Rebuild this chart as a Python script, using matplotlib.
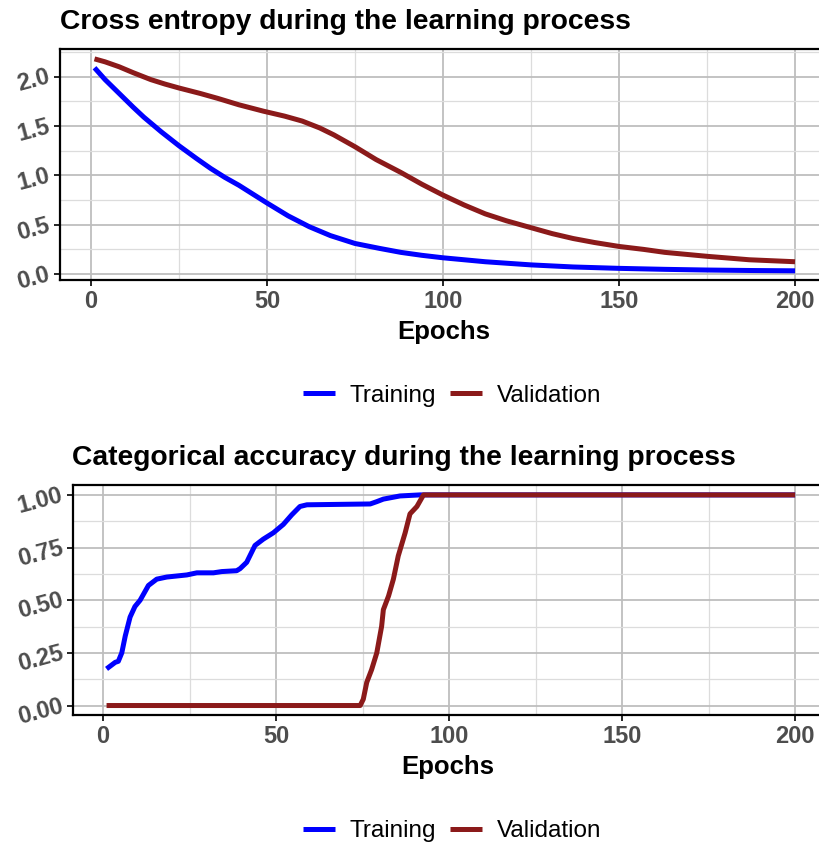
import matplotlib
matplotlib.use("Agg")
import matplotlib.pyplot as plt
from matplotlib.ticker import MultipleLocator

plt.rcParams['font.family'] = ['Liberation Sans', 'DejaVu Sans']

# cross entropy
ce_train_epoch = [1, 2, 4, 6, 8, 10, 12, 15, 20, 25, 30, 34, 38, 42, 46, 50, 56, 62, 68, 75, 82, 88, 94, 100, 112, 125, 137, 150, 163, 175, 188, 200]
ce_train = [2.09, 2.05, 1.97, 1.90, 1.83, 1.76, 1.69, 1.59, 1.44, 1.30, 1.17, 1.07, 0.98, 0.90, 0.81, 0.72, 0.59, 0.48, 0.39, 0.31, 0.26, 0.22, 0.19, 0.165, 0.125, 0.093, 0.072, 0.058, 0.048, 0.041, 0.036, 0.033]
ce_val_epoch = [1, 4, 8, 12, 17, 21, 25, 31, 36, 42, 49, 55, 60, 65, 69, 75, 81, 88, 94, 100, 106, 112, 118, 125, 131, 137, 143, 150, 157, 163, 175, 187, 200]
ce_val = [2.18, 2.15, 2.10, 2.04, 1.97, 1.925, 1.885, 1.83, 1.78, 1.715, 1.65, 1.60, 1.55, 1.48, 1.41, 1.29, 1.16, 1.03, 0.91, 0.80, 0.70, 0.61, 0.54, 0.47, 0.41, 0.36, 0.32, 0.28, 0.25, 0.22, 0.18, 0.145, 0.125]

# categorical accuracy
acc_train_epoch = [1, 3.5, 4.4, 5.4, 6.4, 7.8, 9.2, 10.7, 13.1, 15.5, 18.4, 24.2, 27.1, 31.9, 34.3, 38.6, 39.6, 41.5, 43.9, 46.3, 49.2, 52.1, 54.5, 56.9, 58.9, 77.2, 79.1, 81.0, 85.8, 91.6, 200]
acc_train = [0.174, 0.205, 0.21, 0.25, 0.33, 0.42, 0.47, 0.50, 0.57, 0.60, 0.61, 0.62, 0.63, 0.63, 0.636, 0.64, 0.65, 0.68, 0.76, 0.79, 0.82, 0.86, 0.905, 0.945, 0.953, 0.957, 0.968, 0.98, 0.995, 1.0, 1.0]
acc_val_epoch = [1, 74.3, 75.2, 76.2, 77.6, 79.1, 80.5, 81.0, 82.5, 83.9, 85.3, 87.3, 88.7, 90.7, 92.6, 200]
acc_val = [0.0, 0.0, 0.03, 0.11, 0.17, 0.25, 0.376, 0.455, 0.52, 0.60, 0.71, 0.82, 0.91, 0.945, 1.0, 1.0]

blue = '#0000FF'
red = '#8B1A1A'
W, H = 820, 846

fig = plt.figure(figsize=(W / 100, H / 100), dpi=100)


def add_ax(left, right, top, bottom):
    return fig.add_axes([left / W, 1 - bottom / H, (right - left) / W, (bottom - top) / H])


def style(ax, ymaj, ymin):
    ax.xaxis.set_major_locator(MultipleLocator(50))
    ax.xaxis.set_minor_locator(MultipleLocator(25))
    ax.yaxis.set_major_locator(MultipleLocator(ymaj))
    ax.yaxis.set_minor_locator(MultipleLocator(ymin))
    ax.grid(which='major', color='#BEBEBE', lw=1.3)
    ax.grid(which='minor', color='#DCDCDC', lw=0.9)
    ax.set_axisbelow(True)
    for s in ['top', 'left', 'bottom']:
        ax.spines[s].set_linewidth(1.6)
        ax.spines[s].set_color('black')
    ax.spines['right'].set_visible(False)
    ax.tick_params(which='minor', length=0)
    ax.tick_params(which='major', length=4, width=1.2, color='black')
    for lab in ax.get_xticklabels():
        lab.set_fontweight('bold')
        lab.set_fontsize(17)
        lab.set_color('#4D4D4D')
    for lab in ax.get_yticklabels():
        lab.set_fontweight('bold')
        lab.set_fontsize(17)
        lab.set_color('#4D4D4D')
        lab.set_rotation(15)
        lab.set_rotation_mode('anchor')
        lab.set_ha('right')
        lab.set_va('center')


# top panel
ax1 = add_ax(60, 820, 49, 280)
l1, = ax1.plot(ce_train_epoch, ce_train, color=blue, lw=3.6, solid_capstyle='butt')
l2, = ax1.plot(ce_val_epoch, ce_val, color=red, lw=3.6, solid_capstyle='butt')
ax1.set_xlim(-8.8, 207.1)
ax1.set_ylim(-0.06, 2.28)
ax1.yaxis.set_major_formatter(plt.FuncFormatter(lambda v, p: f'{v:.1f}'))
style(ax1, 0.5, 0.25)
fig.text(60 / W, 1 - 22 / H, 'Cross entropy during the learning process', fontsize=20.3, fontweight='bold', va='center', ha='left')
fig.text(444 / W, 1 - 332 / H, 'Epochs', fontsize=18.5, fontweight='bold', ha='center', va='center')
fig.legend([l1, l2], ['Training', 'Validation'], loc='center', bbox_to_anchor=(452 / W, 1 - 396 / H), ncol=2,
           frameon=False, fontsize=17.5, handlelength=1.3, columnspacing=0.6, handletextpad=0.6)

# bottom panel
ax2 = add_ax(73, 820, 485, 715)
l3, = ax2.plot(acc_train_epoch, acc_train, color=blue, lw=3.6, solid_capstyle='butt')
l4, = ax2.plot(acc_val_epoch, acc_val, color=red, lw=3.6, solid_capstyle='butt')
ax2.set_xlim(-8.7, 207.2)
ax2.set_ylim(-0.045, 1.047)
ax2.yaxis.set_major_formatter(plt.FuncFormatter(lambda v, p: f'{v:.2f}'))
style(ax2, 0.25, 0.125)
fig.text(72 / W, 1 - 458 / H, 'Categorical accuracy during the learning process', fontsize=20.3, fontweight='bold', va='center', ha='left')
fig.text(448 / W, 1 - 767 / H, 'Epochs', fontsize=18.5, fontweight='bold', ha='center', va='center')
fig.legend([l3, l4], ['Training', 'Validation'], loc='center', bbox_to_anchor=(452 / W, 1 - 831 / H), ncol=2,
           frameon=False, fontsize=17.5, handlelength=1.3, columnspacing=0.6, handletextpad=0.6)

fig.savefig('out.png', dpi=100)
